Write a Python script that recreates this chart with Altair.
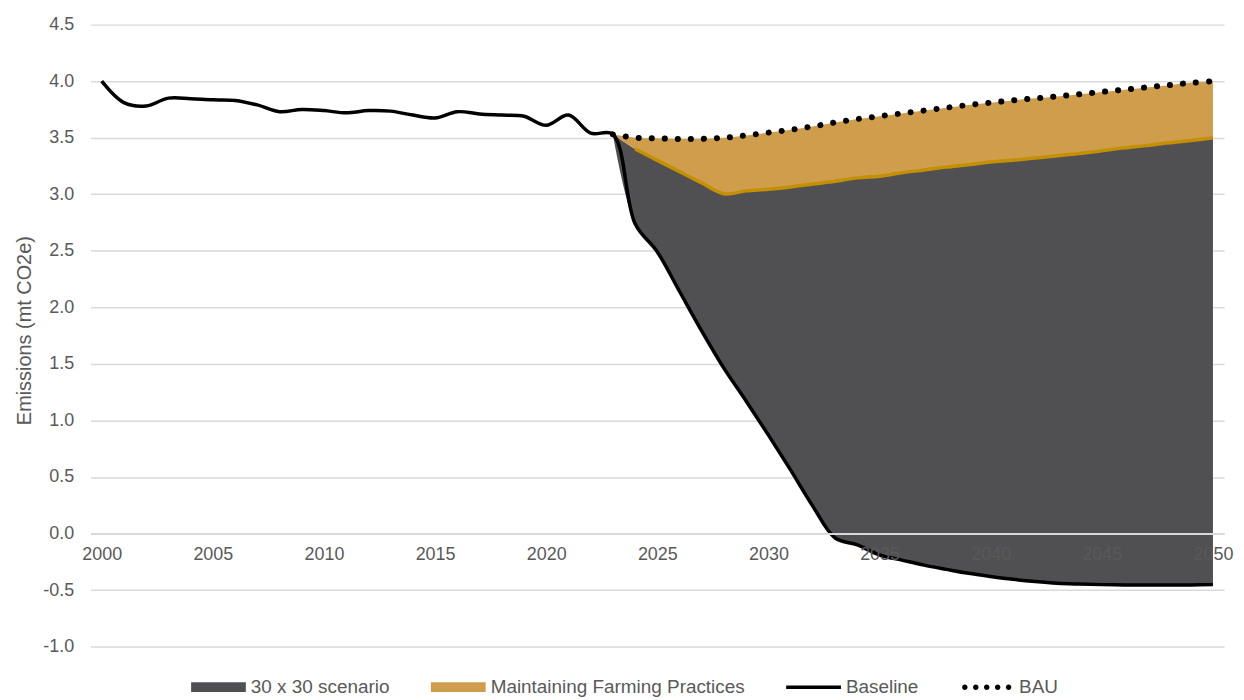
import altair as alt
import pandas as pd

# ---------------- data ----------------
years = list(range(2000, 2051))
baseline = [
    4.00, 3.81, 3.78, 3.85, 3.845, 3.835, 3.83, 3.79, 3.73, 3.75,
    3.74, 3.72, 3.74, 3.735, 3.70, 3.675, 3.73, 3.71, 3.70, 3.69,
    3.61, 3.70, 3.54, 3.53, 2.74, 2.49, 2.14, 1.79, 1.46, 1.17,
    0.87, 0.56, 0.24, -0.04, -0.10, -0.19, -0.235, -0.28, -0.317, -0.352,
    -0.38, -0.405, -0.425, -0.44, -0.447, -0.452, -0.455, -0.456, -0.456, -0.455,
    -0.452,
]
proj_years = list(range(2023, 2051))
practices = [
    3.53, 3.40, 3.30, 3.20, 3.10, 3.005, 3.03, 3.045, 3.065, 3.09,
    3.115, 3.145, 3.16, 3.19, 3.215, 3.24, 3.26, 3.285, 3.30, 3.32,
    3.34, 3.36, 3.385, 3.41, 3.43, 3.455, 3.475, 3.50,
]
bau = [
    3.53, 3.50, 3.495, 3.488, 3.49, 3.50, 3.52, 3.545, 3.57, 3.60,
    3.635, 3.665, 3.69, 3.715, 3.74, 3.765, 3.79, 3.81, 3.83, 3.848,
    3.865, 3.885, 3.905, 3.925, 3.945, 3.965, 3.985, 4.00,
]
series_names = ["30 x 30 scenario", "Maintaining Farming Practices", "Baseline", "BAU"]
x_ticks = [2000, 2005, 2010, 2015, 2020, 2025, 2030, 2035, 2040, 2045, 2050]
y_ticks = [-1.0, -0.5, 0.0, 0.5, 1.0, 1.5, 2.0, 2.5, 3.0, 3.5, 4.0, 4.5]

# ---------------- styling ----------------
GREY_AREA = "#505052"
ORANGE_AREA = "#cf9e4c"
GOLD_LINE = "#c49000"
TEXT = "#595959"
GRID = "#d9d9d9"
FONT = "Liberation Sans"
W, H = 1139, 625
INTERP = "catmull-rom"

base_df = pd.DataFrame({"year": years, "baseline": baseline})
proj_df = pd.DataFrame({
    "year": proj_years,
    "baseline": baseline[years.index(2023):],
    "practices": practices,
    "bau": bau,
})
legend_df = pd.DataFrame({"series": series_names, "year": [2000] * 4, "value": [-9.0] * 4})

x_scale = alt.Scale(domain=[1999.5, 2050.5], nice=False, zero=False)
y_scale = alt.Scale(domain=[-1.0, 4.5], nice=False, zero=False)

x_axis = alt.Axis(
    values=x_ticks, format="d", title=None, grid=False, ticks=False,
    domain=True, domainColor=GRID, domainWidth=2,
    labelFont=FONT, labelFontSize=18, labelColor=TEXT, labelPadding=12,
    labelFlush=False, labelOverlap=False, offset=-H / 5.5, zindex=1,
)
y_axis = alt.Axis(
    values=y_ticks, title="Emissions (mt CO2e)",
    labelExpr="(datum.value < 0 ? '-' : '') + format(abs(datum.value), '.1f')",
    grid=True, gridColor=GRID, gridWidth=1.5, domain=False, ticks=False,
    labelFont=FONT, labelFontSize=18, labelColor=TEXT, labelPadding=17,
    titleFont=FONT, titleFontSize=20, titleColor=TEXT, titleFontWeight="normal",
    titleAngle=270, titleX=-56, titleY=307, titleAlign="center", titleBaseline="bottom",
)

X = alt.X("year:Q", scale=x_scale, axis=x_axis)

grey_area = alt.Chart(proj_df).mark_area(color=GREY_AREA, opacity=1, interpolate=INTERP).encode(
    x=X,
    y=alt.Y("baseline:Q", scale=y_scale, axis=y_axis),
    y2="practices:Q",
)
orange_area = alt.Chart(proj_df).mark_area(color=ORANGE_AREA, opacity=1, interpolate=INTERP).encode(
    x=alt.X("year:Q"),
    y=alt.Y("practices:Q"),
    y2="bau:Q",
)
gold_line = alt.Chart(proj_df).transform_filter("datum.year >= 2024").mark_line(
    color=GOLD_LINE, strokeWidth=3.5, interpolate=INTERP
).encode(x=alt.X("year:Q"), y=alt.Y("practices:Q"))
baseline_line = alt.Chart(base_df).mark_line(
    color="#000000", strokeWidth=3.5, interpolate=INTERP
).encode(x=alt.X("year:Q"), y=alt.Y("baseline:Q"))
bau_line = alt.Chart(proj_df).mark_line(
    color="#000000", strokeWidth=6, strokeDash=[0.1, 13], strokeCap="round", interpolate=INTERP
).encode(x=alt.X("year:Q"), y=alt.Y("bau:Q"))

rect_path = "M-1,-0.18H1V0.18H-1Z"
line_path = "M-1,-0.064H1V0.064H-1Z"
dots_path = " ".join(
    f"M{c - 0.1:.2f},0A0.1,0.1 0 1,0 {c + 0.1:.2f},0A0.1,0.1 0 1,0 {c - 0.1:.2f},0Z"
    for c in [-0.8, -0.4, 0.0, 0.4, 0.8]
)

legend_props = dict(
    title=None, orient="none", direction="horizontal", legendX=101, legendY=638,
    labelFont=FONT, labelFontSize=19, labelColor=TEXT, labelOffset=5, labelLimit=0,
    columnPadding=41, symbolSize=3025, symbolStrokeWidth=0, symbolOpacity=1,
)

legend_layer = alt.Chart(legend_df).mark_point(filled=True, clip=True, size=3025, opacity=1).encode(
    x=alt.X("year:Q"),
    y=alt.Y("value:Q"),
    color=alt.Color(
        "series:N",
        scale=alt.Scale(domain=series_names, range=[GREY_AREA, ORANGE_AREA, "#000000", "#000000"]),
        legend=alt.Legend(**legend_props),
    ),
    shape=alt.Shape(
        "series:N",
        scale=alt.Scale(domain=series_names, range=[rect_path, rect_path, line_path, dots_path]),
        legend=alt.Legend(**legend_props),
    ),
)

chart = alt.layer(
    grey_area, orange_area, gold_line, baseline_line, bau_line, legend_layer
).properties(
    width=W, height=H,
    padding={"left": 83, "top": 15, "right": 12, "bottom": 60},
    autosize=alt.AutoSizeParams(type="none"),
    background="white",
).configure_view(stroke=None)

chart.save("out.html", embed_options={"renderer": "svg", "actions": False})
